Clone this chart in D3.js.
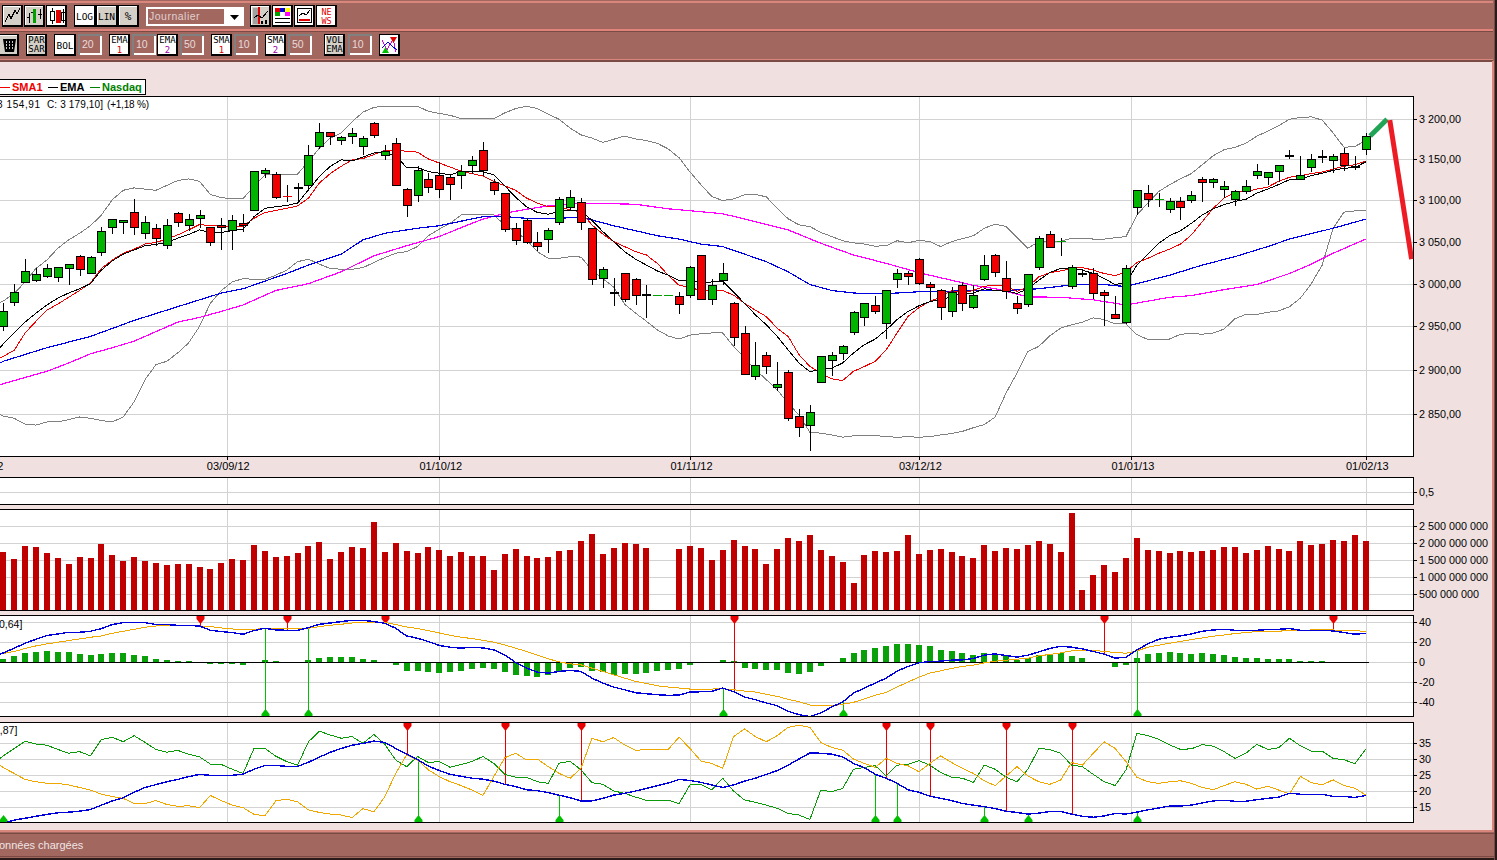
<!DOCTYPE html>
<html>
<head>
<meta charset="utf-8">
<title>Nasdaq</title>
<script src="https://cdn.jsdelivr.net/npm/d3@7"></script>
<style>
  html, body { margin: 0; padding: 0; background: #f0e0e0; overflow: hidden; }
  svg { display: block; }
  text { font-family: "Liberation Sans", Arial, sans-serif; }
  .line { fill: none; shape-rendering: crispEdges; }
  .crisp { shape-rendering: crispEdges; }
</style>
</head>
<body>
<div id="chart"></div>
<script>
// daily candles (index = trading day)
const opens = [
  2951,2978,3002,3004,3009,3008,3018,3033,3013,3037,
  3067,3073.5,3085.5,3060,3066,3045.5,3084,3070,3078,3067,
  3070,3064,3072,3088,3133,3132,3105.05,3116,3118.5,3166,
  3184,3174,3179,3166.5,3195,3155,3170,3113.5,3106,3126,
  3131,3128,3131,3143,3161.5,3122,3108.5,3066,3076,3049,
  3053,3073.5,3091.5,3097.5,3066,3006,2990.5,3012,3005,2987.5,
  2987,2987,2986,2987,3033.5,2983,3004,2977,2942,2893,
  2917,2881,2898,2848,2838.5,2886,2911.5,2919.5,2943.5,2961,
  2974.5,2953,3005,3013,3029,3000,2993,2968,2999,2973.5,
  3005,3033.5,3007,2977,2976,3020,3059,3050.5,2998,3013,
  3013,2990,2965,2956,3091.5,3108.5,3101,3089,3099,3100,
  3126,3122,3113.5,3101,3111,3131,3128,3135.5,3155.5,3126,
  3140.5,3154.5,3149,3158,3141.5,3163
];
const highs = [
  2977.5,3000,3029,3019,3023,3020,3023,3034,3033,3068,
  3077,3076,3101.5,3081,3071,3077,3086,3083.5,3088,3068,
  3078.5,3082,3083,3135.5,3139,3134.5,3119,3121,3168,3195.5,
  3184,3179,3189,3179,3196,3168,3177,3115,3142,3133,
  3147,3131.5,3143,3154,3172,3126,3108.5,3072,3078,3061,
  3066,3103.5,3112.5,3102.5,3066,3020,3006.5,3013,3007,2999,
  2987,2987,2990,3021,3033.5,3005,3024,2978,2950.5,2932,
  2920.5,2909,2900,2855.5,2860,2916,2920.5,2928.5,2968,2977,
  2985.5,2992,3017,3015.5,3030,3002.5,2994,2996.5,3002.5,2998,
  3033.5,3035,3026.5,2985,3011,3056.5,3062.5,3054,3021.5,3017,
  3018,2993,2985,3021.5,3112,3118.5,3108.5,3102.5,3103.5,3111,
  3128,3127,3123,3112,3124.5,3144,3134.5,3143,3161.5,3154,
  3157,3161.5,3157,3164,3154,3183
];
const lows = [
  2945,2974,3000.5,3002,3007,3001.5,2998,3009,3013,3033,
  3059,3059,3058,3053,3045,3041.5,3068,3063,3066.5,3045,
  3040,3040,3062,3088,3127.5,3101.5,3098,3097,3112,3163,
  3168,3168,3169.5,3156,3177,3149.6,3118.5,3080,3098,3109,
  3103,3100.5,3114,3132,3130,3106.5,3062,3046,3046.5,3039,
  3036.5,3070.5,3087,3064,2999,2994.5,2974,2979,2975,2960,
  2987,2987,2964.5,2983.5,2981.5,2975,2998,2927,2895.5,2889,
  2895.5,2876,2842,2825,2809,2885,2893.5,2911.5,2940.5,2951,
  2964.5,2936,2994.5,2998,2998,2979,2958,2961,2968,2970,
  3003,3008,2982,2964,2973,3016,3044,3033,2994,3008,
  2982,2951,2959,2953,3082.5,3092,3091.5,3084,3076.5,3096,
  3098,3114.5,3103,3093.5,3107,3126,3118.5,3122,3150.5,3124.5,
  3135,3145,3133,3135.5,3136.5,3155
];
const closes = [
  2968,2990,3015.5,3011,3018,3020,3023,3017,3031.5,3062.5,
  3077,3076,3067,3073.5,3054,3070,3073.5,3077,3082,3049,
  3067,3076,3069,3135.5,3137,3103.5,3105,3115.5,3155,3184,
  3179,3178,3183,3176.5,3180,3160,3118.5,3094,3137,3116,
  3113.5,3120,3135.5,3149,3137,3112,3065,3051.5,3049,3044,
  3064,3101,3103.5,3073.5,3005,3017,2990,2981.5,2986,2987,
  2987,2987,2977,3020,2981.5,2999,3012,2938,2895.5,2905.5,
  2904.5,2884,2846.5,2836,2853,2916,2917,2927.5,2966.5,2977,
  2968,2992,3012,3009.5,3001,2996.5,2973.5,2990,2978,2987,
  3021.5,3013,2992,2971,3011,3054,3044,3050.5,3020,3012.5,
  2990,2986,2960,3019,3112,3101,3101,3099,3091.5,3106,
  3122,3126,3117,3111,3117,3135.5,3134.5,3143,3155,3131,
  3150.5,3154,3154,3143,3141,3179
];

// bollinger bands
const bollUpper = [
  2979.6,2988.5,3002,3018,3028,3042,3052,3060,3069,3082,
  3100.5,3112,3115,3113.5,3112,3118,3124,3126,3123,3107,
  3103,3102,3102,3117,3131,3132,3132,3132,3147.5,3164,
  3176.5,3183,3197,3209,3215,3216.5,3216,3216,3216.5,3210,
  3207.5,3205,3201,3201,3201,3201,3208,3213.5,3216.5,3213.5,
  3206.5,3200,3189,3180.5,3176.5,3171,3175,3179,3175.5,3173.5,
  3170,3163,3152,3134.5,3119,3104.5,3099.5,3101.5,3106.5,3107,
  3104,3090,3077.5,3070,3068,3061,3056,3051,3048.5,3047,
  3044.5,3045,3051,3048.5,3051.5,3050,3044,3050,3053.5,3057,
  3066,3071,3068,3055,3042,3050,3050.5,3050.5,3054,3054,
  3053,3053,3054.5,3056,3082,3096.5,3110.5,3119,3126,3132.5,
  3143.5,3154.5,3162,3165,3170,3179,3185,3192,3200,3202.5,
  3203,3199,3183,3165,3166,3173.5
];
const bollLower = [
  2848,2845.5,2839,2838,2841.5,2841.5,2844,2847,2845.5,2843,
  2841.5,2847,2864,2889,2906,2910,2919.5,2931,2950,2977,
  2992,3002,3006,3005,3005,3010,3016,3026,3029,3023,
  3018,3017,3017,3019,3025,3031,3036,3038,3044,3057,
  3065,3072,3082,3082,3082,3082,3070,3062,3052,3038,
  3030,3030,3032,3031.5,3016,3006,2996,2976,2965.5,2956,
  2946,2939,2935.5,2940,2941.5,2942.5,2942.5,2927,2914,2900.5,
  2889,2877.5,2862.5,2849,2830,2829,2827,2824.5,2826,2826.5,
  2826.5,2825,2824.5,2825,2824.5,2825,2827,2828.5,2831,2835,
  2838.5,2847,2874,2896.5,2921,2927,2939,2948,2952,2955,
  2960,2958,2953,2953,2940.5,2935,2935.5,2935.5,2941,2942,
  2941,2942.5,2947,2959,2964,2964,2966.5,2968,2973,2983,
  3000,3022,3066,3085.5,3087,3087
];

// short averages
const ema10 = [
  2930,2942.5,2955,2965.5,2975,2983,2989,2994,3000,3016,
  3027,3035,3040,3045,3046.5,3049,3054,3058.5,3064,3061,
  3061,3063,3065,3080,3090,3092,3093.5,3096.5,3112.5,3129,
  3141.5,3149.5,3148,3153,3158,3159,3154.5,3140,3140,3135,
  3133,3131,3135,3135,3134.5,3131,3117.5,3103.5,3092,3085,
  3083,3086,3088,3087.5,3075.5,3062,3050,3038,3029,3022,
  3015,3010,3003.5,3004,3001,3002,3003,2990,2977,2963.5,
  2952,2938.5,2923,2908,2898,2901,2902,2908,2919.5,2929,
  2935.5,2946,2958,2967.5,2974,2979,2981.5,2984.5,2989,2989,
  2994,2992,2991.5,2988.5,2994,3004,3013,3018,3018,3016,
  3012,3006,2999,3001,3022,3035,3048,3057,3063,3072,
  3082,3089.5,3094.5,3098.5,3101,3108.5,3113.5,3119,3125,3126,
  3130,3133,3136.5,3139,3140,3147
];
const sma10 = [
  2915.6,2922.5,2942.5,2956,2969,2976,2984,2992,3001,3018,
  3028,3036,3041,3047,3049,3053,3058,3064,3070.5,3069,
  3069,3068,3068.5,3078,3085,3087.5,3090,3093,3102.5,3121,
  3132.5,3141.5,3149.5,3151,3156,3161,3162,3160,3159,3150.5,
  3145.5,3140.5,3135.5,3132.5,3129.5,3123,3117.5,3112,3102.5,3096.5,
  3092,3092,3088,3086,3070,3059,3050,3044,3038,3034,
  3024,3010,2998,2996,2991.5,2992,2992,2986.5,2977,2969,
  2961.5,2948,2938.5,2917.5,2904,2896.5,2890,2888,2898.5,2904,
  2910,2923,2942.5,2961.5,2972,2979,2984.5,2992,2989,2992,
  2997,2998,2997,2991,2996,3008,3013,3015,3018,3019,
  3016,3012,3009.5,3014,3025,3030,3036,3041,3047,3058,
  3074,3090,3102.5,3109.5,3110.5,3113.5,3116,3123,3128,3130,
  3132.5,3134.5,3138,3141.5,3143.5,3148
];

// long averages, read at a few days each
const ema50Days = [-0.3,0,4,8,12,16,20,22,26,28,31,33,35,38,40,44,46,48,51,53,54,56,58,60,62,64,66,68,70,72,74,76,78,80,82,84,86,88,92,95,98,101,103,104,107,110,113,116,118,122,125];
const ema50 = [2908,2910,2925.5,2938.5,2957,2973,2989,2994,3012,3022,3035,3052,3060,3066,3069,3080,3080,3078,3078,3079.5,3076,3069,3063,3057,3053,3047,3044,3035,3026,3014,2999,2992,2989,2988,2989,2990.5,2991,2991.5,2992,2994,2998.5,2999,2996.5,3000,3010,3022,3032,3044,3053,3066,3077];
const sma50Days = [-0.3,0,4,6,8,10,12,14,16,18,20,22,25,28,31,34,37,40,43,44,46,48,50,53,58,61,64,66,69,72,75,78,81,84,86,88,89,91,94,97,100,103,107,109,112,115,118,120,122,125];
const sma50 = [2883,2884.5,2898.5,2908,2918.5,2925.5,2933,2944,2955,2960.5,2967.5,2975,2992,3000,3014,3033,3045,3056,3072,3077,3084,3089,3093,3096.5,3095,3089.5,3086,3083.5,3074,3064,3048,3034,3024,3013,3007,3001,2998,2994,2984.5,2984,2981,2975,2984,2986,2993,2999,3012,3023,3036,3053];

// values at the left window edge, just before the first full day
const leadDay = -0.3;
const leadUpper = 2978, leadLower = 2850, leadEma = 2925.5, leadSma = 2914;
const leadMacd = 8, leadSignal = 8, leadDiPlus = 30.1, leadDiMinus = 28;

// hand drawn forecast at the right end
const forecastUpDays = [125.4,126.95];
const forecastUp = [3179,3200];
const forecastDownDays = [127.2,129.2];
const forecastDown = [3199,3029];

// volume, null where the market was closed
const volumes = [
  1740,1530,1910,1880,1710,1560,1380,1590,1560,1970,
  1650,1470,1590,1470,1410,1360,1380,1380,1300,1240,
  1410,1530,1500,1940,1770,1590,1620,1710,1910,2030,
  1530,1740,1880,1850,2610,1740,2000,1770,1710,1880,
  1790,1620,1740,1620,1620,1210,1680,1820,1620,1560,
  1590,1770,1790,2060,2260,1680,1850,2000,1970,1850,
  null,null,1820,1910,1850,1500,1790,2090,1910,1820,
  1380,1820,2150,2060,2230,1790,1620,1440,830,1650,
  1770,1740,1770,2230,1680,1790,1820,1740,1620,1560,
  1940,1770,1850,1820,1940,2060,1970,1740,2880,620,
  1060,1360,1150,1560,2150,1790,1770,1710,1770,1740,
  1770,1790,1880,1880,1710,1790,1910,1820,1770,2060,
  1940,1970,2090,2060,2230,2060
].map(d => d === null ? null : d * 1e6);

// MACD panel
const macdLine = [
  9.3,14,19,23,26.7,28.3,30,30,31,33.7,
  37.7,39.7,40,39.7,37.7,37.7,37,36.7,36.3,32,
  30.7,29.7,28,31.7,34,32.3,32,32,34.7,38,
  39.3,40.7,42,42,40.7,39,34,26.3,24,20.7,
  16.7,15,14,15,14.3,12.3,7.3,-0.3,-6,-10,
  -11,-9.3,-8.3,-9.3,-16,-21,-25,-27.7,-30.7,-31.7,
  -32.7,-33.3,-33,-30,-29.7,-29.3,-26,-29.7,-35,-37.7,
  -41,-43.7,-49.3,-52.7,-54.7,-51,-45,-40,-31,-26,
  -21,-16,-9,-4.3,-0.7,0.7,1,2,2.3,3.7,
  7,8.3,6.7,5,7,10.3,13.7,16,15,13.3,
  10.7,8,4,5,12.3,18.3,23,25,26.3,28.3,
  31,32.3,33,32,32,32,32.7,33,33.7,32,
  32,32,31.3,29.7,28,29
];
const macdSignal = [
  8.7,10.7,13.7,16.3,18.3,20,21.7,23.3,25,26.3,
  29,31,33,35,36.3,36.7,36.7,36.3,36.3,35.7,
  34.3,33.3,32.7,33,33.7,34,34,34,34,35.7,
  37,38,39.3,40,40.3,40,37.7,35.3,33.7,31.7,
  29.3,27,25,23.7,22,20,17.3,14,10.7,7,
  3.3,0.3,-1.7,-2.7,-6,-9.3,-12.7,-16,-19.3,-21.3,
  -23.7,-25,-26,-27,-27,-27,-26.7,-27.7,-29,-30,
  -32.3,-34.3,-37.3,-39.7,-43,-44,-44,-42.3,-40.3,-37,
  -33.3,-30.3,-25,-20,-15,-11,-8.7,-6.3,-4.3,-3,
  -0.7,1,2,3,4,6.3,7.7,9.3,11.3,12,
  12,10.7,9.7,9,11.3,15,17,19,20.7,22.7,
  24.3,26,27.3,28.7,29.7,30.7,31,31,32,32,
  32.3,32.3,32.3,32,31.7,30.7
];
const macdHist = [
  3.3,6.3,9.3,10.3,11.3,10.3,10.3,8.3,7.3,8.3,
  9.3,9.3,7.3,6.3,3.3,2.3,1.3,1.3,0,-2.3,
  -2.3,-2,-3.3,0,2.3,1,0,0,2.3,4.3,
  5.3,5.3,5.3,3.3,2.3,0,-3.3,-8.7,-8.7,-9.7,
  -10.7,-9.7,-8.7,-6.7,-5.7,-6.7,-9.7,-12.7,-13.7,-14.7,
  -12.7,-8.7,-5.7,-4.7,-8.7,-9.7,-12.7,-11.7,-11.7,-10.7,
  -8.7,-7.7,-6.7,-2.7,-1.3,0,2.3,1,-5.7,-6.7,
  -7.7,-7.7,-10.7,-11.7,-9.7,-3.7,0,4.3,9.3,12.3,
  14.3,16.3,18.3,18.3,17.3,16.3,12.3,11.3,9.3,7.3,
  9.3,8.3,6.3,2.3,4.3,7.3,7.3,9.3,6.3,4.3,
  0,-1.3,-4.7,-2.7,4.3,8.3,9.3,10.3,9.3,8.3,
  9.3,8.3,7.3,5.3,4.3,4.3,3.3,3.3,3.3,1.3,
  1.3,1.3,0,0,-1,0.3
];
const macdSellDays = [18,26,35,67,101,122];
const macdBuyDays = [24,28,66,77,104];

// DMI panel
const diPlus = [
  30.9,33.2,35.4,34.6,34.2,32.9,31.7,32.2,30.9,36,
  36.7,35.3,37.2,35.1,32.9,32,32.6,31.4,30.6,28.3,
  28.2,26.7,25.4,33.2,33.2,30.8,29.1,28,35.3,38.6,
  37.4,36.4,36.9,34.8,37.6,34.5,29.6,27.5,30.7,28.8,
  29.1,27.3,28.2,29.1,30.7,28.5,25.1,24.2,24.2,22.8,
  22.3,28.6,29.2,26.5,22.5,22,19.9,19.2,18,17,
  17,17,16,21.8,22,20.3,23.9,19.9,17.1,16.4,
  15.5,14.5,12.9,12.4,11,20.2,19.7,20.7,26.7,27.3,
  27.8,24.6,28,28.2,29.4,28,25.7,24.2,23.9,22.6,
  28,26.7,24.2,22.8,26.7,33.2,32.9,31.7,28,27.5,
  25.1,22.8,21.6,26.5,37.9,37.2,36.1,34.3,32.9,33.1,
  34.4,33.9,32.2,30.1,31.7,34.5,32.9,33.4,36.4,34,
  32.4,32.4,30.1,29.7,28.4,33
];
const diMinus = [
  27.2,25.4,23.5,22.8,22.3,22.3,21.8,21,20.2,18.9,
  18.2,17.6,16,16,16.9,15.7,15.1,15.3,14.7,18.5,
  16.9,15.5,14.7,12.6,12.2,16.8,17.4,16.5,14,13.2,
  12.7,12.4,11.6,14.4,13.4,18.1,25.4,31.2,29.6,26.5,
  24.4,22.8,21.6,20.2,18.5,24.4,30.3,31.7,29.6,29.9,
  27.5,25.4,23.9,27,36.4,35.3,36.6,34.3,32.6,32.9,
  32.9,32.9,36.7,33.2,29.3,28.5,27,36.9,39.3,36.9,
  35.3,37.2,39.8,40.5,39.8,35.1,33.5,32.7,29.9,28.5,
  27.3,30.1,28.5,27.8,25.9,28.5,30.9,28.8,27,25.4,
  23.1,21.6,24.6,27.5,24.6,22.8,22,23.3,28.8,28,
  31.7,35.3,33.2,29.1,24.2,22.8,22.3,22.8,23.1,22.3,
  21,20.3,21.6,22.8,22,20.5,21.4,20.2,19,24.5,
  22.5,21.8,23.4,21.6,20.8,18.6
];
const adx = [
  9.8,10.8,11.4,12,12.6,13.1,13.3,13.6,14.1,15.5,
  16.8,17.8,19.5,21,21.9,22.8,23.5,24.4,25.1,24.8,
  24.8,24.8,25.2,26.7,27.9,27.9,27.6,27.6,28.9,30.5,
  32,33.2,34.2,34.8,35.5,35.1,33.2,31.5,29.7,27.7,
  26.3,25.1,24.5,23.9,23.6,23,22,21.3,20.3,20,
  19.4,18.6,17.8,16.8,16.8,17.6,18.6,19.2,19.9,20.7,
  21.6,22.4,23.5,23.2,22.6,21.8,21,21.8,23,23.9,
  25.1,26.3,28,29.9,31.8,31.7,31.4,30.6,28.5,27.2,
  25.1,23.9,22.3,20.3,19.5,18.3,17.6,16.9,16,15.5,
  15,14.4,13.6,13.2,12.7,13,13.5,13.5,12.7,12,
  11.7,12.1,12.9,12.7,13.3,14,14.6,15.2,15.2,15.5,
  16.2,16.8,17,16.7,16.7,17.2,17.6,18,19.2,18.9,
  18.9,18.9,18.2,18.2,17.9,18.5
];
const dmiSellDays = [37,46,53,81,85,92,98];
const dmiBuyDays = [0,38,51,80,82,90,94,104];

// axes
const dateDays = [20.5,40,63,84,103.5,125];
const dateLabels = ["03/09/12","01/10/12","01/11/12","03/12/12","01/01/13","01/02/13"];
const priceTicks = [3200,3150,3100,3050,3000,2950,2900,2850];
const volumeTicks = [2500000000,2000000000,1500000000,1000000000,500000000];
const macdTicks = [40,20,0,-20,-40];
const dmiTicks = [35,30,25,20,15];

const brown = "#a26860", salmon = "#d9867c", pink = "#f0e0e0";
const W = 1497, H = 860, plotRight = 1414;

const svg = d3.select("#chart").append("svg").attr("width", W).attr("height", H);

// ---- window frame
function box(x, y, w, h, fill) {
  return svg.append("rect").attr("class", "crisp").attr("x", x).attr("y", y).attr("width", w).attr("height", h).attr("fill", fill);
}
box(0, 0, W, H, pink);
box(0, 0, W, 61, brown);
box(0, 1, 1493, 2, salmon);
box(0, 29, 1493, 2, "#e0837a");
box(0, 31, 1493, 1, "#7a4a44");
box(0, 59, 1493, 1, salmon);
box(0, 60, 1493, 2, "#7a4a44");
box(1492, 61, 2, 771, salmon);
box(0, 830, 1494, 2, salmon);
box(0, 832, W, 27, brown);
box(0, 833, 1494, 1, "#7a4a44");
box(0, 856, 1494, 1, "#7a4a44");
box(0, 858, W, 2, "#2a1a18");
box(1494, 0, 1, H, "#7a4a44");
box(1495, 0, 2, H, "#2a1a18");

// ---- scales
const x = d3.scaleLinear().domain([0, 125]).range([3.3, 1365.8]);
const yPrice = d3.scaleLog().domain([3200, 2850]).range([119.3, 414.3]);
const yVol = d3.scaleLinear().domain([0, 2500000000]).range([611.5, 526]);
const yMacd = d3.scaleLinear().domain([40, -40]).range([622.3, 702]);
const yDmi = d3.scaleLinear().domain([35, 15]).range([742.7, 806.7]);
const snap = v => Math.round(v) + 0.5;

const panels = [
  { id: "main", top: 97, bottom: 457 },
  { id: "mid", top: 478, bottom: 505 },
  { id: "vol", top: 510, bottom: 611 },
  { id: "macd", top: 616, bottom: 717 },
  { id: "dmi", top: 723, bottom: 823 }
];
const defs = svg.append("defs");
panels.forEach(p => {
  box(-2, p.top, plotRight + 2, p.bottom - p.top, "#fff");
  defs.append("clipPath").attr("id", "clip-" + p.id).append("rect")
    .attr("x", 0).attr("y", p.top).attr("width", plotRight).attr("height", p.bottom - p.top);
  // vertical date grid
  svg.append("g").selectAll("line").data(dateDays).join("line")
    .attr("class", "crisp")
    .attr("x1", d => snap(x(d))).attr("x2", d => snap(x(d)))
    .attr("y1", p.top).attr("y2", p.bottom)
    .attr("stroke", "#d2d2d2");
});
const clipG = id => svg.append("g").attr("clip-path", `url(#clip-${id})`);

function hGrid(ticks, scale) {
  svg.append("g").selectAll("line").data(ticks).join("line")
    .attr("class", "crisp")
    .attr("x1", 0).attr("x2", plotRight)
    .attr("y1", d => snap(scale(d))).attr("y2", d => snap(scale(d)))
    .attr("stroke", "#d2d2d2");
}
hGrid(priceTicks, yPrice);
hGrid(volumeTicks, yVol);
hGrid(macdTicks, yMacd);
hGrid(dmiTicks, yDmi);
box(0, 492, plotRight, 1, "#d2d2d2");

// xs: explicit days for the sparse series; lead: value at the left edge for the daily ones
function drawLine(g, xs, ys, yScale, color, width, lead) {
  const pts = ys.map((v, i) => [xs ? xs[i] : i, v]);
  if (lead !== undefined) pts.unshift([leadDay, lead]);
  const gen = d3.line().x(d => x(d[0])).y(d => yScale(d[1]));
  g.append("path").attr("class", "line").attr("d", gen(pts)).attr("stroke", color).attr("stroke-width", width);
}

// ---- price panel
const gMain = clipG("main");
drawLine(gMain, null, bollUpper, yPrice, "#808080", 1, leadUpper);
drawLine(gMain, null, bollLower, yPrice, "#808080", 1, leadLower);
drawLine(gMain, sma50Days, sma50, yPrice, "#ff00ff", 1.2);
drawLine(gMain, ema50Days, ema50, yPrice, "#0000e0", 1.2);
drawLine(gMain, null, sma10, yPrice, "#f00000", 1, leadSma);
drawLine(gMain, null, ema10, yPrice, "#000", 1, leadEma);

const days = d3.range(opens.length);
const gCandles = gMain.append("g");
gCandles.selectAll("line.wick").data(days.filter(i => highs[i] > lows[i])).join("line")
  .attr("class", "wick crisp")
  .attr("x1", i => snap(x(i))).attr("x2", i => snap(x(i)))
  .attr("y1", i => yPrice(highs[i])).attr("y2", i => yPrice(lows[i]))
  .attr("stroke", "#000");

const isFlat = i => Math.abs(opens[i] - closes[i]) < 0.1;
gCandles.selectAll("line.flat").data(days.filter(isFlat)).join("line")
  .attr("class", "flat crisp")
  .attr("x1", i => snap(x(i)) - 4.5).attr("x2", i => snap(x(i)) + 4.5)
  .attr("y1", i => snap(yPrice(closes[i]))).attr("y2", i => snap(yPrice(closes[i])))
  .attr("stroke", i => opens[i] > closes[i] ? "#f00000" : "#00a000");

gCandles.selectAll("rect").data(days.filter(i => !isFlat(i))).join("rect")
  .attr("class", "crisp")
  .attr("x", i => snap(x(i)) - 4)
  .attr("width", 8)
  .attr("y", i => snap(yPrice(Math.max(opens[i], closes[i]))))
  .attr("height", i => Math.max(1, Math.round(yPrice(Math.min(opens[i], closes[i])) - yPrice(Math.max(opens[i], closes[i])))))
  .attr("fill", i => closes[i] > opens[i] ? "#00b400" : "#f00000")
  .attr("stroke", "#000");

const gForecast = svg.append("g");
gForecast.append("path").attr("fill", "none").attr("stroke", "#22a457").attr("stroke-width", 5)
  .attr("d", d3.line().x((d, i) => x(forecastUpDays[i])).y(d => yPrice(d))(forecastUp));
gForecast.append("path").attr("fill", "none").attr("stroke", "#ed1c24").attr("stroke-width", 5)
  .attr("d", d3.line().x((d, i) => x(forecastDownDays[i])).y(d => yPrice(d))(forecastDown));

// ---- volume panel
clipG("vol").selectAll("rect").data(days.filter(i => volumes[i] !== null)).join("rect")
  .attr("class", "crisp")
  .attr("x", i => snap(x(i)) - 3.5)
  .attr("width", 6)
  .attr("y", i => yVol(volumes[i]))
  .attr("height", i => yVol(0) - yVol(volumes[i]))
  .attr("fill", "#c00000");

// ---- MACD panel
const gMacd = clipG("macd");
gMacd.selectAll("rect").data(days.filter(i => macdHist[i] !== 0)).join("rect")
  .attr("class", "crisp")
  .attr("x", i => snap(x(i)) - 3.5)
  .attr("width", 6)
  .attr("y", i => Math.min(yMacd(0), yMacd(macdHist[i])))
  .attr("height", i => Math.abs(yMacd(macdHist[i]) - yMacd(0)))
  .attr("fill", "#0aa00a");
gMacd.append("line").attr("class", "crisp")
  .attr("x1", 0).attr("x2", x(125) + 3)
  .attr("y1", snap(yMacd(0))).attr("y2", snap(yMacd(0)))
  .attr("stroke", "#000");

function signals(g, sellDays, buyDays, values, yScale, top, bottom) {
  g.selectAll("line.sell").data(sellDays).join("line").attr("class", "sell crisp")
    .attr("x1", i => snap(x(i))).attr("x2", i => snap(x(i)))
    .attr("y1", top).attr("y2", i => yScale(values[i])).attr("stroke", "#e80000");
  g.selectAll("line.buy").data(buyDays).join("line").attr("class", "buy crisp")
    .attr("x1", i => snap(x(i))).attr("x2", i => snap(x(i)))
    .attr("y1", bottom).attr("y2", i => yScale(values[i])).attr("stroke", "#00c000");
  g.selectAll("path.sell").data(sellDays).join("path").attr("class", "sell")
    .attr("d", i => `M${snap(x(i)) - 4},${top}h8v3l-4,5l-4,-5z`).attr("fill", "#e80000");
  g.selectAll("path.buy").data(buyDays).join("path").attr("class", "buy")
    .attr("d", i => `M${snap(x(i)) - 4},${bottom}h8v-3l-4,-5l-4,5z`).attr("fill", "#00c000");
}
signals(gMacd, macdSellDays, macdBuyDays, macdLine, yMacd, 616, 717);
drawLine(gMacd, null, macdSignal, yMacd, "#f0a800", 1, leadSignal);
drawLine(gMacd, null, macdLine, yMacd, "#0000d8", 1.4, leadMacd);

// ---- DMI panel
const gDmi = clipG("dmi");
signals(gDmi, dmiSellDays, dmiBuyDays, adx, yDmi, 723, 823);
drawLine(gDmi, null, diPlus, yDmi, "#0a9a0a", 1, leadDiPlus);
drawLine(gDmi, null, diMinus, yDmi, "#f0a800", 1, leadDiMinus);
drawLine(gDmi, null, adx, yDmi, "#0000d8", 1.4);

// ---- panel frames
panels.forEach(p => {
  svg.append("rect").attr("class", "crisp")
    .attr("x", -3).attr("y", p.top - 0.5).attr("width", plotRight + 3 - 0.5).attr("height", p.bottom - p.top)
    .attr("fill", "none").attr("stroke", "#000").attr("stroke-width", 1);
});

// ---- axes
function rightAxis(scale, ticks, fmt) {
  const g = svg.append("g").attr("transform", `translate(${plotRight - 1},0)`)
    .call(d3.axisRight(scale).tickValues(ticks).tickFormat(fmt).tickSize(4).tickPadding(2));
  g.select(".domain").remove();
  g.selectAll("line").attr("stroke", "#000").attr("class", "crisp");
  g.selectAll("text").attr("font-size", 10.8).attr("font-family", "Liberation Sans").attr("fill", "#000");
}
const spaced = d => d3.format(",")(d).replace(/,/g, " ");
rightAxis(yPrice, priceTicks, d => spaced(d) + ",00");
rightAxis(yVol, volumeTicks, spaced);
rightAxis(yMacd, macdTicks, d => String(d));
rightAxis(yDmi, dmiTicks, d => String(d));
rightAxis(d3.scaleLinear().domain([0, 1]).range([505, 479]), [0.5], () => "0,5");

const dateAxis = svg.append("g").attr("transform", "translate(0,456.5)")
  .call(d3.axisBottom(x).tickValues(dateDays).tickFormat((d, i) => dateLabels[i]).tickSize(3).tickPadding(3));
dateAxis.select(".domain").remove();
dateAxis.selectAll("line").attr("stroke", "#000").attr("class", "crisp");
dateAxis.selectAll("text").attr("font-size", 11).attr("font-family", "Liberation Sans").attr("fill", "#000").attr("dx", 1);
// label of the tick that scrolled off the left edge
svg.append("text").attr("x", -18).attr("y", 470).attr("text-anchor", "middle").attr("font-size", 11).text("01/08/12");

// ---- small texts in the panels
function label(t, px, py, size, fill, weight) {
  return svg.append("text").attr("x", px).attr("y", py).attr("font-size", size)
    .attr("fill", fill || "#000").attr("font-weight", weight || "normal").text(t);
}
label("3 154,91", -3, 108, 10).attr("textLength", 43);
label("C: 3 179,10]", 47, 108, 10).attr("textLength", 56);
label("(+1,18 %)", 107, 108, 10).attr("textLength", 42);
label("0,64]", -1, 628, 10.5);
label("3,87]", -6, 734, 10.5);
label("Données chargées", -9, 849, 11, "#f0e4e4");

// ---- legend
svg.append("rect").attr("class", "crisp").attr("x", -3).attr("y", 79.5).attr("width", 148).attr("height", 15)
  .attr("fill", "#fff").attr("stroke", "#000");
box(0, 87, 10, 1, "#f00000");
label("SMA1", 12, 91, 11, "#f00000", "bold");
box(48, 87, 10, 1, "#000");
label("EMA", 60, 91, 11, "#000", "bold");
box(90, 87, 10, 1, "#008000");
label("Nasdaq", 102, 91, 11, "#008000", "bold");

// ---- toolbar
function button(bx, by, bw, bh, fill) {
  box(bx, by, bw, bh, "#000");
  box(bx + 1, by + 1, bw - 3, bh - 3, "#fff");
  box(bx + 2, by + 2, bw - 4, bh - 4, fill);
}
function btnText(t, cx, cy, color, size) {
  svg.append("text").attr("x", cx).attr("y", cy).attr("text-anchor", "middle")
    .style("font-family", "'DejaVu Sans Mono'").attr("font-size", size || 9.5).attr("fill", color || "#000").text(t);
}
function stroke(pts, color, w) {
  svg.append("path").attr("class", "line").attr("d", d3.line()(pts)).attr("stroke", color).attr("stroke-width", w || 1);
}
const gray = "#d4d0c8";
const inputBox = (bx, val) => {
  box(bx, 34, 24, 21, "#808080");
  box(bx + 2, 36, 22, 19, "#fff");
  box(bx + 2, 36, 20, 17, brown);
  svg.append("text").attr("x", bx + 4).attr("y", 48).attr("font-size", 10.5).attr("fill", "#e8dada").text(val);
};

button(2, 5, 21, 22, gray);
stroke([[5, 22], [9, 14], [11, 19], [15, 10], [17, 14], [20, 8]], "#000", 1.2);
button(24, 5, 21, 22, gray);
stroke([[29, 13], [29, 23]], "#000"); stroke([[27, 17], [29, 17]], "#000");
box(33, 9, 3, 14, "#00a000"); stroke([[31, 12], [33, 12]], "#000");
stroke([[40, 9], [40, 19]], "#000"); stroke([[38, 14], [42, 14]], "#000");
button(46, 5, 21, 22, "#fff");
stroke([[52, 8], [52, 24]], "#000"); box(50, 11, 4, 9, "#fff"); stroke([[50, 11], [54, 11], [54, 20], [50, 20], [50, 11]], "#000");
box(56, 10, 5, 13, "#e00000");
stroke([[63, 9], [63, 23]], "#000"); stroke([[61, 12], [65, 12], [65, 20], [61, 20], [61, 12]], "#000");

button(74, 5, 22, 22, "#fff"); btnText("LOG", 84.5, 20);
button(96, 5, 22, 22, gray); btnText("LIN", 106.5, 20);
button(118, 5, 21, 22, gray); btnText("%", 128, 20, "#000", 11);

box(146, 7, 98, 19, "#fff");
box(148, 9, 76, 15, brown);
svg.append("text").attr("x", 149).attr("y", 20).attr("font-size", 10.5).attr("letter-spacing", 0.5).attr("fill", "#e0d0d0").text("Journalier");
svg.append("path").attr("d", "M230,15h9l-4.5,5z").attr("fill", "#000");

button(250, 5, 21, 22, gray);
box(253, 8, 7, 16, "#a0a0a0"); stroke([[259, 7], [259, 24]], "#e00000", 1.2);
stroke([[254, 18], [258, 15], [262, 18], [268, 11]], "#000"); stroke([[262, 24], [262, 21]], "#000", 2); stroke([[266, 24], [266, 20]], "#000", 2);
button(272, 5, 21, 22, "#fff");
box(275, 8, 5, 4, "#e00000"); box(280, 8, 5, 4, "#0000e0"); box(285, 8, 5, 4, "#ffff00");
box(275, 12, 5, 4, "#00a000"); box(285, 12, 5, 4, "#ff00ff");
box(275, 18, 15, 1, "#000"); box(275, 22, 15, 1, "#000");
button(294, 5, 21, 22, "#fff");
box(297, 8, 15, 15, "#000"); box(298, 9, 13, 13, "#fff");
stroke([[299, 16], [303, 13], [306, 15], [310, 10]], "#000");
box(299, 19, 11, 2, "#e00000");
button(316, 5, 21, 22, "#fff");
svg.append("text").attr("x", 326.5).attr("y", 15).attr("text-anchor", "middle").style("font-family", "'DejaVu Sans Mono'").attr("font-size", 8.5).attr("fill", "#e00000").text("NE");
svg.append("text").attr("x", 326.5).attr("y", 23.5).attr("text-anchor", "middle").style("font-family", "'DejaVu Sans Mono'").attr("font-size", 8.5).attr("fill", "#e00000").text("WS");

// second row
button(-2, 34, 21, 22, gray);
svg.append("path").attr("d", "M3,39h13l-2,13h-9z").attr("fill", "#000");
d3.range(3).forEach(r => d3.range(3).forEach(c => box(5.5 + c * 3, 41 + r * 3, 1.5, 1.5, "#c8c8c8")));
button(26, 34, 21, 22, gray); btnText("PAR", 36.5, 43, "#000", 9); btnText("SAR", 36.5, 52, "#000", 9);
button(54, 34, 22, 22, "#fff"); btnText("BOL", 65, 49);
inputBox(78, "20");
button(109, 34, 21, 22, "#fff"); btnText("EMA", 119.5, 43, "#000", 9); btnText("1", 119.5, 52.5, "#e00000", 9);
inputBox(132, "10");
button(157, 34, 21, 22, "#fff"); btnText("EMA", 167.5, 43, "#000", 9); btnText("2", 167.5, 52.5, "#a000a0", 9);
inputBox(180, "50");
button(211, 34, 21, 22, "#fff"); btnText("SMA", 221.5, 43, "#000", 9); btnText("1", 221.5, 52.5, "#e00000", 9);
inputBox(234, "10");
button(265, 34, 21, 22, "#fff"); btnText("SMA", 275.5, 43, "#000", 9); btnText("2", 275.5, 52.5, "#a000a0", 9);
inputBox(288, "50");
button(324, 34, 21, 22, gray); btnText("VOL", 334.5, 43, "#000", 9); btnText("EMA", 334.5, 52, "#000", 9);
inputBox(348, "10");
button(379, 34, 21, 22, "#fff");
stroke([[382, 40], [387, 50], [393, 39], [396, 52]], "#e000e0");
stroke([[382, 48], [388, 42], [392, 46], [397, 50]], "#0000e0");
svg.append("path").attr("d", "M390,37h7l-3.5,6z").attr("fill", "#e00000");
svg.append("path").attr("d", "M382,53h7l-3.5,-6z").attr("fill", "#00c000");
</script>
</body>
</html>
